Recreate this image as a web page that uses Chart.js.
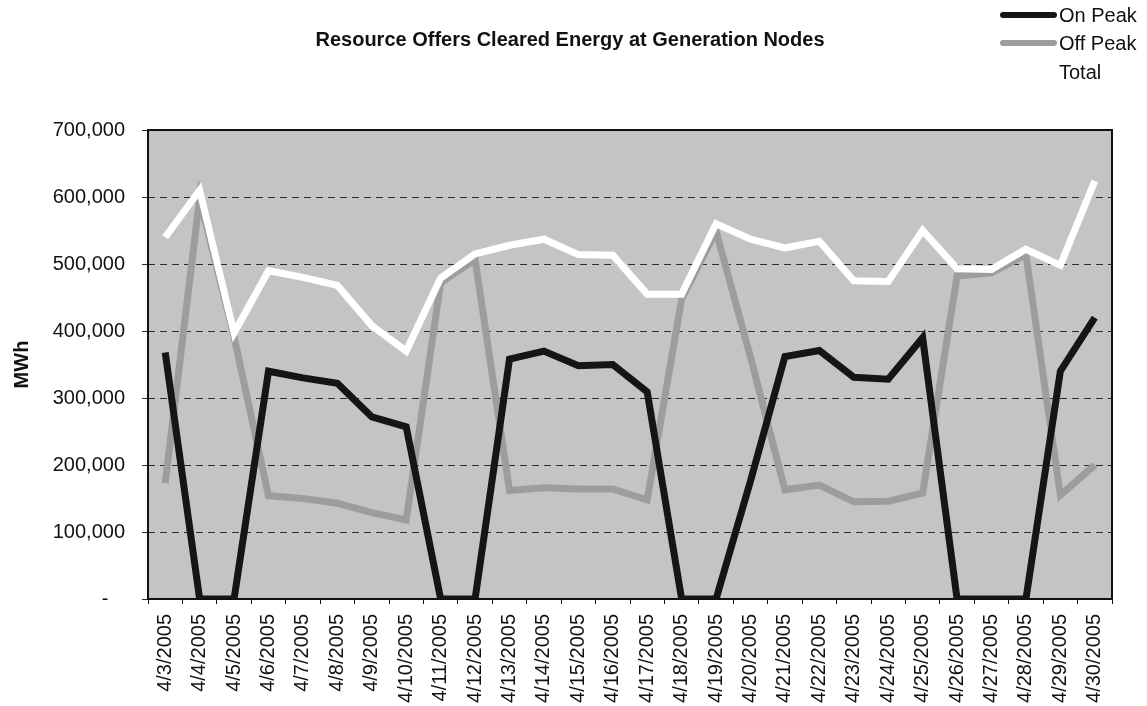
<!DOCTYPE html>
<html>
<head>
<meta charset="utf-8">
<script src="https://cdn.jsdelivr.net/npm/chart.js@4.4.1/dist/chart.umd.min.js"></script>
<style>
  html, body { margin: 0; padding: 0; background: #fff; }
  #wrap { width: 1147px; height: 706px; position: relative; }
</style>
</head>
<body>
<div id="wrap"><canvas id="chart" width="1147" height="706"></canvas></div>
<script>
// dates on the x axis
const dates = ["4/3/2005", "4/4/2005", "4/5/2005", "4/6/2005", "4/7/2005", "4/8/2005", "4/9/2005",
  "4/10/2005", "4/11/2005", "4/12/2005", "4/13/2005", "4/14/2005", "4/15/2005", "4/16/2005",
  "4/17/2005", "4/18/2005", "4/19/2005", "4/20/2005", "4/21/2005", "4/22/2005", "4/23/2005",
  "4/24/2005", "4/25/2005", "4/26/2005", "4/27/2005", "4/28/2005", "4/29/2005", "4/30/2005"];

// MWh
const onPeak = [368000, 0, 0, 340000, 330000, 322000, 272000, 257000, 0, 0, 358000, 370000, 348000, 350000,
  309000, 0, 0, 176000, 362000, 371000, 331000, 328000, 390000, 0, 0, 0, 340000, 420000];
const offPeak = [173000, 598000, 391000, 154000, 150000, 143000, 129000, 118000, 472000, 507000, 162000, 166000, 164000, 164000,
  148000, 448000, 549000, 361000, 163000, 170000, 145000, 146000, 158000, 482000, 487000, 514000, 155000, 200000];
const total = [540000, 610000, 397000, 490000, 480000, 468000, 408000, 370000, 479000, 515000, 528000, 537000, 514000, 513000,
  455000, 455000, 560000, 537000, 524000, 534000, 475000, 474000, 550000, 493000, 492000, 522000, 498000, 624000];

const seriesNames = ["On Peak", "Off Peak", "Total"];
const yMax = 700000;
const yStep = 100000;

const FONT = '"Liberation Sans", Arial, sans-serif';

// grey plot area + frame
const plotArea = {
  id: 'plotArea',
  beforeDraw(chart) {
    const {ctx, chartArea: a} = chart;
    ctx.save();
    ctx.fillStyle = '#c4c4c4';
    ctx.fillRect(a.left, a.top, a.right - a.left, a.bottom - a.top);
    ctx.restore();
  },
  beforeDatasetsDraw(chart) {
    const {ctx, chartArea: a} = chart;
    ctx.save();
    ctx.strokeStyle = '#111';
    ctx.lineWidth = 2;
    ctx.strokeRect(a.left, a.top, a.right - a.left, a.bottom - a.top);
    ctx.restore();
  }
};

// title and legend drawn at the positions of the original
const headerText = {
  id: 'headerText',
  afterDraw(chart) {
    const ctx = chart.ctx;
    ctx.save();
    ctx.fillStyle = '#111';
    ctx.font = 'bold 20px ' + FONT;
    ctx.textAlign = 'center';
    ctx.textBaseline = 'middle';
    ctx.fillText('Resource Offers Cleared Energy at Generation Nodes', 570, 40);

    ctx.font = '20px ' + FONT;
    ctx.textAlign = 'left';
    const rows = [15, 43, 72];
    chart.data.datasets.forEach((ds, i) => {
      const y = rows[i];
      ctx.strokeStyle = ds.borderColor;
      ctx.lineWidth = 6;
      ctx.lineCap = 'round';
      ctx.beginPath();
      ctx.moveTo(1003, y);
      ctx.lineTo(1054, y);
      ctx.stroke();
      ctx.fillStyle = '#111';
      ctx.fillText(ds.label, 1059, y + 1);
    });
    ctx.restore();
  }
};

const ctx = document.getElementById('chart').getContext('2d');
new Chart(ctx, {
  type: 'line',
  data: {
    labels: dates,
    datasets: [{
      label: seriesNames[0],
      data: onPeak,
      borderColor: '#151515',
      borderWidth: 7,
      order: 1
    }, {
      label: seriesNames[1],
      data: offPeak,
      borderColor: '#9d9d9d',
      borderWidth: 7,
      order: 2
    }, {
      label: seriesNames[2],
      data: total,
      borderColor: '#ffffff',
      borderWidth: 7,
      order: 0
    }]
  },
  options: {
    responsive: false,
    animation: false,
    devicePixelRatio: 1,
    layout: { padding: { left: 0, top: 130, right: 35, bottom: 0 } },
    elements: { point: { radius: 0, hoverRadius: 0 }, line: { tension: 0 } },
    plugins: {
      legend: { display: false },
      title: { display: false },
      tooltip: { enabled: false }
    },
    scales: {
      x: {
        offset: true,
        grid: { offset: true, drawOnChartArea: false, tickLength: 5, color: '#111' },
        border: { display: false },
        ticks: {
          autoSkip: false,
          minRotation: 90,
          maxRotation: 90,
          padding: 10,
          color: '#111',
          font: { family: FONT, size: 20 }
        },
        afterFit(scale) { scale.height = 107; }
      },
      y: {
        min: 0,
        max: yMax,
        grid: {
          color: '#2b2b2b',
          lineWidth: 1,
          tickLength: 6,
          tickColor: '#2b2b2b'
        },
        border: { display: false, dash: [7, 5] },
        ticks: {
          stepSize: yStep,
          padding: 17,
          color: '#111',
          font: { family: FONT, size: 20 },
          callback: v => v === 0 ? '-   ' : v.toLocaleString('en-US')
        },
        title: {
          display: true,
          text: 'MWh',
          color: '#111',
          font: { family: FONT, size: 20, weight: 'bold' },
          padding: { top: 10, bottom: 0 }
        },
        afterFit(scale) { scale.width = 148; }
      }
    }
  },
  plugins: [plotArea, headerText]
});
</script>
</body>
</html>
